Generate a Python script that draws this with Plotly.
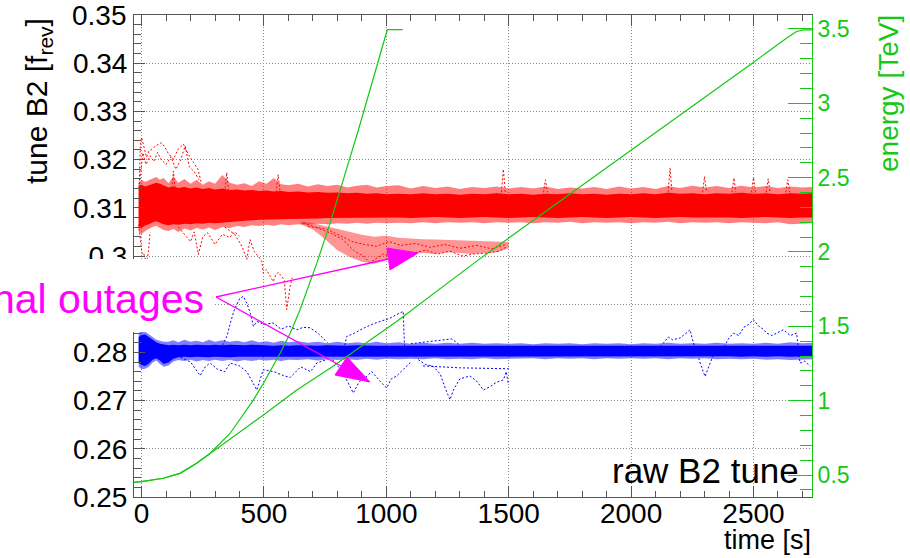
import plotly.graph_objects as go

# ---------------- data ----------------
x_ticks = [0, 500, 1000, 1500, 2000, 2500]
x_ticklabels = ["0", "500", "1000", "1500", "2000", "2500"]
y_ticks = [0.25, 0.26, 0.27, 0.28, 0.29, 0.30, 0.31, 0.32, 0.33, 0.34, 0.35]
# 0.29 is hidden behind the label box in the reference
y_ticklabels = ["0.25", "0.26", "0.27", "0.28", "", "0.3", "0.31", "0.32", "0.33", "0.34", "0.35"]
e_ticks = [0.5, 1, 1.5, 2, 2.5, 3, 3.5]
e_ticklabels = ["0.5", "1", "1.5", "2", "2.5", "3", "3.5"]

# time samples of the dense tune bands
band_t = [-12, 0, 15, 30, 45, 60, 75, 90,
          110, 130, 150, 175, 200, 225, 250, 275, 300,
          330, 360, 390, 420, 450, 480, 510, 540, 570, 600,
          640, 680, 720, 760, 800, 840, 880, 920, 960, 1000,
          1050, 1100, 1150, 1200, 1250, 1300, 1350, 1400, 1450, 1500,
          1550, 1600, 1650, 1700, 1750, 1800, 1850, 1900, 1950, 2000,
          2050, 2100, 2150, 2200, 2250, 2300, 2350, 2400, 2450, 2500,
          2550, 2600, 2650, 2700, 2740]

red_core_hi = [0.3146, 0.3148, 0.3144, 0.3147, 0.3150, 0.3152, 0.3150, 0.3146,
               0.3142, 0.3144, 0.3141, 0.3143, 0.3140, 0.3142, 0.3139, 0.3141, 0.3138,
               0.3140, 0.3137, 0.3138, 0.3136, 0.3137, 0.3135, 0.3136, 0.3134, 0.3135, 0.3133,
               0.3134, 0.3132, 0.3133, 0.3131, 0.3132, 0.3130, 0.3131, 0.3129, 0.3130, 0.3128,
               0.3129, 0.3128, 0.3130, 0.3128, 0.3129, 0.3127, 0.3129, 0.3128, 0.3130, 0.3128,
               0.3129, 0.3127, 0.3129, 0.3128, 0.3130, 0.3128, 0.3129, 0.3127, 0.3129, 0.3128,
               0.3130, 0.3128, 0.3131, 0.3129, 0.3130, 0.3128, 0.3130, 0.3129, 0.3131, 0.3129,
               0.3130, 0.3128, 0.3130, 0.3129, 0.3130]
red_core_lo = [0.3062, 0.3058, 0.3064, 0.3066, 0.3070, 0.3072, 0.3069, 0.3066,
               0.3064, 0.3066, 0.3065, 0.3067, 0.3066, 0.3068, 0.3067, 0.3069, 0.3068,
               0.3070, 0.3071, 0.3072, 0.3073, 0.3074, 0.3075, 0.3075, 0.3076, 0.3076, 0.3077,
               0.3077, 0.3078, 0.3078, 0.3079, 0.3079, 0.3079, 0.3080, 0.3079, 0.3080, 0.3080,
               0.3080, 0.3079, 0.3080, 0.3081, 0.3080, 0.3079, 0.3080, 0.3081, 0.3080, 0.3079,
               0.3080, 0.3081, 0.3080, 0.3079, 0.3080, 0.3081, 0.3080, 0.3079, 0.3080, 0.3081,
               0.3080, 0.3079, 0.3080, 0.3081, 0.3080, 0.3079, 0.3080, 0.3080, 0.3079, 0.3080,
               0.3081, 0.3080, 0.3079, 0.3080, 0.3080]
red_fuzz_hi = [0.3152, 0.3158, 0.3154, 0.3157, 0.3161, 0.3164, 0.3158, 0.3162,
               0.3151, 0.3165, 0.3152, 0.3160, 0.3150, 0.3158, 0.3148, 0.3155, 0.3150,
               0.3168, 0.3152, 0.3148, 0.3151, 0.3145, 0.3155, 0.3150, 0.3162, 0.3149, 0.3147,
               0.3150, 0.3144, 0.3149, 0.3145, 0.3148, 0.3142, 0.3146, 0.3148, 0.3142, 0.3145,
               0.3147, 0.3140, 0.3145, 0.3141, 0.3144, 0.3139, 0.3143, 0.3141, 0.3144, 0.3140,
               0.3143, 0.3140, 0.3144, 0.3139, 0.3142, 0.3140, 0.3143, 0.3139, 0.3144, 0.3140,
               0.3143, 0.3139, 0.3145, 0.3141, 0.3146, 0.3142, 0.3145, 0.3141, 0.3146, 0.3142,
               0.3145, 0.3141, 0.3144, 0.3142, 0.3143]
red_fuzz_lo = [0.3050, 0.3045, 0.3052, 0.3056, 0.3060, 0.3063, 0.3058, 0.3054,
               0.3052, 0.3056, 0.3050, 0.3057, 0.3053, 0.3058, 0.3055, 0.3059, 0.3054,
               0.3060, 0.3058, 0.3062, 0.3060, 0.3064, 0.3062, 0.3065, 0.3063, 0.3066, 0.3064,
               0.3066, 0.3065, 0.3067, 0.3066, 0.3068, 0.3067, 0.3069, 0.3067, 0.3069, 0.3068,
               0.3069, 0.3068, 0.3070, 0.3068, 0.3070, 0.3069, 0.3070, 0.3068, 0.3070, 0.3069,
               0.3070, 0.3068, 0.3070, 0.3069, 0.3071, 0.3068, 0.3070, 0.3069, 0.3070, 0.3068,
               0.3070, 0.3069, 0.3071, 0.3068, 0.3070, 0.3069, 0.3070, 0.3068, 0.3070, 0.3069,
               0.3068, 0.3070, 0.3066, 0.3067, 0.3068]

blue_core_hi = [0.2832, 0.2836, 0.2837, 0.2832, 0.2826, 0.2821, 0.2818, 0.2817,
                0.2815, 0.2816, 0.2815, 0.2816, 0.2815, 0.2816, 0.2815, 0.2815, 0.2816,
                0.2815, 0.2816, 0.2815, 0.2815, 0.2816, 0.2815, 0.2815, 0.2814, 0.2815, 0.2814,
                0.2815, 0.2814, 0.2814, 0.2815, 0.2814, 0.2814, 0.2815, 0.2814, 0.2814, 0.2814,
                0.2814, 0.2813, 0.2814, 0.2813, 0.2814, 0.2813, 0.2813, 0.2814, 0.2813, 0.2813,
                0.2814, 0.2813, 0.2813, 0.2814, 0.2813, 0.2813, 0.2814, 0.2813, 0.2813, 0.2814,
                0.2813, 0.2814, 0.2813, 0.2813, 0.2814, 0.2813, 0.2814, 0.2813, 0.2814, 0.2813,
                0.2813, 0.2813, 0.2814, 0.2814, 0.2814]
blue_core_lo = [0.2778, 0.2774, 0.2772, 0.2777, 0.2785, 0.2788, 0.2783, 0.2776,
                0.2779, 0.2787, 0.2790, 0.2791, 0.2790, 0.2791, 0.2791, 0.2790, 0.2791,
                0.2791, 0.2790, 0.2791, 0.2791, 0.2792, 0.2791, 0.2791, 0.2792, 0.2791, 0.2792,
                0.2792, 0.2791, 0.2792, 0.2792, 0.2791, 0.2792, 0.2792, 0.2791, 0.2792, 0.2792,
                0.2792, 0.2791, 0.2792, 0.2792, 0.2791, 0.2792, 0.2792, 0.2791, 0.2792, 0.2792,
                0.2791, 0.2792, 0.2792, 0.2791, 0.2792, 0.2792, 0.2791, 0.2792, 0.2792, 0.2791,
                0.2792, 0.2792, 0.2791, 0.2792, 0.2792, 0.2791, 0.2792, 0.2792, 0.2791, 0.2792,
                0.2791, 0.2792, 0.2791, 0.2791, 0.2792]
blue_fuzz_hi = [0.2840, 0.2844, 0.2843, 0.2838, 0.2832, 0.2826, 0.2824, 0.2822,
                0.2822, 0.2825, 0.2821, 0.2826, 0.2822, 0.2824, 0.2821, 0.2826, 0.2822,
                0.2825, 0.2822, 0.2824, 0.2821, 0.2825, 0.2821, 0.2823, 0.2820, 0.2824, 0.2821,
                0.2823, 0.2820, 0.2822, 0.2819, 0.2822, 0.2819, 0.2821, 0.2819, 0.2822, 0.2819,
                0.2821, 0.2818, 0.2820, 0.2818, 0.2820, 0.2818, 0.2820, 0.2818, 0.2819, 0.2818,
                0.2819, 0.2817, 0.2819, 0.2818, 0.2819, 0.2817, 0.2819, 0.2818, 0.2819, 0.2817,
                0.2819, 0.2818, 0.2820, 0.2818, 0.2819, 0.2818, 0.2820, 0.2818, 0.2819, 0.2818,
                0.2820, 0.2818, 0.2821, 0.2819, 0.2820]
blue_fuzz_lo = [0.2770, 0.2765, 0.2766, 0.2770, 0.2779, 0.2783, 0.2776, 0.2770,
                0.2773, 0.2781, 0.2784, 0.2782, 0.2785, 0.2781, 0.2784, 0.2782, 0.2785,
                0.2782, 0.2785, 0.2781, 0.2784, 0.2782, 0.2785, 0.2783, 0.2785, 0.2782, 0.2785,
                0.2784, 0.2786, 0.2783, 0.2786, 0.2784, 0.2786, 0.2784, 0.2787, 0.2785, 0.2787,
                0.2786, 0.2787, 0.2786, 0.2788, 0.2786, 0.2787, 0.2786, 0.2788, 0.2786, 0.2787,
                0.2787, 0.2788, 0.2786, 0.2788, 0.2787, 0.2788, 0.2786, 0.2788, 0.2787, 0.2788,
                0.2787, 0.2788, 0.2786, 0.2788, 0.2787, 0.2788, 0.2786, 0.2787, 0.2786, 0.2787,
                0.2785, 0.2786, 0.2784, 0.2785, 0.2786]

# red excursions, dotted
red_ex1_t = [-10, -5, 0, 10, 20, 30, 42, 55, 70, 82, 95, 110, 130, 150, 171, 190, 212, 230, 245]
red_ex1_v = [0.3140, 0.3230, 0.3246, 0.3222, 0.3205, 0.3218, 0.3221, 0.3228, 0.3232, 0.3235,
             0.3226, 0.3212, 0.3201, 0.3222, 0.3232, 0.3212, 0.3194, 0.3180, 0.3150]
red_ex1b_t = [-8, 5, 18, 35, 50, 65, 80, 100, 120, 140, 160, 178, 195, 215, 235]
red_ex1b_v = [0.3150, 0.3214, 0.3190, 0.3208, 0.3196, 0.3215, 0.3200, 0.3190, 0.3206, 0.3180,
              0.3200, 0.3228, 0.3185, 0.3175, 0.3158]
red_ex2_t = [-12, -5, 2, 7, 14, 21, 28, 35]
red_ex2_v = [0.3065, 0.3030, 0.3005, 0.3007, 0.2995, 0.2986, 0.3010, 0.3050]
red_ex3_t = [150, 175, 200, 215, 232, 250, 270, 300, 330, 360, 380, 400]
red_ex3_v = [0.3060, 0.3045, 0.3030, 0.3050, 0.3003, 0.3040, 0.3048, 0.3024, 0.3045, 0.3038, 0.3050, 0.3041]
red_ex4_t = [340, 380, 410, 430, 443, 460, 478, 491, 497, 510, 525, 538, 548, 558, 572, 583, 593, 600, 607, 615]
red_ex4_v = [0.3060, 0.3045, 0.3020, 0.2993, 0.3034, 0.3010, 0.2998, 0.2989, 0.2965, 0.2972,
             0.2958, 0.2947, 0.2960, 0.2966, 0.2958, 0.2950, 0.2889, 0.2915, 0.2937, 0.2955]
red_cl_t = [650, 700, 750, 800, 850, 900, 950, 1000, 1050, 1100, 1150, 1200, 1250, 1300, 1350, 1400, 1450, 1500]
red_cl_hi = [0.3072, 0.3068, 0.3062, 0.3056, 0.3049, 0.3044, 0.3040, 0.3042, 0.3038, 0.3036,
             0.3035, 0.3034, 0.3033, 0.3032, 0.3031, 0.3031, 0.3030, 0.3029]
red_cl_lo = [0.3066, 0.3055, 0.3035, 0.3012, 0.2998, 0.2988, 0.2984, 0.2992, 0.3002, 0.3004,
             0.3006, 0.3004, 0.3008, 0.3006, 0.3004, 0.3006, 0.3008, 0.3016]
red_ex5_t = [680, 720, 770, 820, 870, 906, 933, 960, 990, 1020, 1060, 1110, 1160, 1210, 1260, 1310, 1355, 1410, 1460, 1495]
red_ex5_v = [0.3062, 0.3058, 0.3048, 0.3035, 0.3010, 0.3000, 0.2986, 0.2995, 0.3005, 0.2998,
             0.3010, 0.3006, 0.3012, 0.3004, 0.3010, 0.3000, 0.3004, 0.3006, 0.3010, 0.3020]
red_ex6_t = [660, 710, 760, 810, 860, 910, 960, 1010, 1060, 1120, 1180, 1240, 1300, 1370, 1430, 1490]
red_ex6_v = [0.3068, 0.3060, 0.3055, 0.3042, 0.3030, 0.3024, 0.3020, 0.3030, 0.3022, 0.3026,
             0.3018, 0.3024, 0.3016, 0.3022, 0.3015, 0.3024]
red_spike_t = [130, 348, 558, 1478, 1650, 2159, 2300, 2420, 2500, 2560, 2640]
red_spike_v = [0.3176, 0.3173, 0.3169, 0.3180, 0.3158, 0.3182, 0.3165, 0.3162, 0.3163, 0.3160, 0.3158]

# blue excursions, dotted
blue_ex1_t = [330, 350, 362, 380, 402, 416, 430, 445, 457, 471, 500, 538, 570, 600, 634, 660, 688, 720, 760]
blue_ex1_v = [0.2815, 0.2835, 0.2860, 0.2890, 0.2913, 0.2916, 0.2902, 0.2880, 0.2854, 0.2864,
              0.2858, 0.2861, 0.2848, 0.2855, 0.2847, 0.2852, 0.2851, 0.2840, 0.2820]
blue_ex2_t = [830, 838, 870, 906, 950, 1000, 1015, 1040, 1069, 1072, 1076, 1080]
blue_ex2_v = [0.2815, 0.2833, 0.2840, 0.2850, 0.2860, 0.2868, 0.2871, 0.2878, 0.2885, 0.2840, 0.2792, 0.2800]
blue_ex3_t = [1100, 1138, 1180, 1220, 1267, 1288, 1300]
blue_ex3_v = [0.2818, 0.2820, 0.2822, 0.2825, 0.2828, 0.2820, 0.2815]
blue_ex4_t = [160, 200, 239, 260, 280, 310, 340, 362, 400, 430, 471, 497, 540, 579, 607, 650, 690, 716, 760]
blue_ex4_v = [0.2790, 0.2780, 0.2752, 0.2770, 0.2778, 0.2765, 0.2760, 0.2778, 0.2772, 0.2760,
              0.2722, 0.2764, 0.2760, 0.2752, 0.2748, 0.2770, 0.2760, 0.2778, 0.2786]
blue_ex5_t = [780, 820, 865, 890, 906, 940, 975, 1001, 1020, 1042, 1070, 1100]
blue_ex5_v = [0.2785, 0.2760, 0.2716, 0.2740, 0.2744, 0.2760, 0.2740, 0.2726, 0.2745, 0.2751, 0.2765, 0.2780]
blue_ex6_t = [1130, 1160, 1192, 1220, 1245, 1260, 1274, 1300, 1342, 1370, 1396, 1424, 1450, 1478, 1490, 1498]
blue_ex6_v = [0.2785, 0.2775, 0.2771, 0.2755, 0.2720, 0.2702, 0.2722, 0.2745, 0.2751, 0.2740,
              0.2722, 0.2729, 0.2738, 0.2743, 0.2760, 0.2735]
blue_ex7_t = [1150, 1300, 1500]
blue_ex7_v = [0.2772, 0.2768, 0.2766]
blue_ex8_t = [2120, 2140, 2152, 2170, 2200, 2220, 2241, 2254, 2270, 2282, 2302, 2323, 2340, 2360]
blue_ex8_v = [0.2812, 0.2826, 0.2832, 0.2826, 0.2830, 0.2838, 0.2847, 0.2820, 0.2800, 0.2778,
              0.2750, 0.2778, 0.2800, 0.2810]
blue_ex9_t = [2380, 2400, 2418, 2440, 2460, 2480, 2499, 2520, 2540, 2554, 2575, 2600, 2622, 2650, 2676, 2690, 2710, 2731]
blue_ex9_v = [0.2812, 0.2830, 0.2840, 0.2835, 0.2852, 0.2858, 0.2868, 0.2855, 0.2848, 0.2840,
              0.2835, 0.2842, 0.2847, 0.2835, 0.2840, 0.2778, 0.2782, 0.2771]

# beam energy ramps [TeV]
fast_t = [-31, 0, 89, 157, 225, 280, 362, 457, 498, 566, 607, 647, 716, 770, 824, 886, 1004, 1067]
fast_e = [0.450, 0.455, 0.478, 0.511, 0.579, 0.646, 0.781, 1.005, 1.117, 1.319, 1.454, 1.610,
          1.925, 2.194, 2.485, 2.822, 3.495, 3.495]
slow_t = [-31, 0, 89, 157, 225, 280, 362, 498, 634, 770, 906, 1042, 1376, 1873, 2281, 2499,
          2636, 2676, 2704, 2739]
slow_e = [0.450, 0.455, 0.478, 0.511, 0.579, 0.646, 0.742, 0.904, 1.072, 1.218, 1.375, 1.532,
          1.947, 2.534, 3.012, 3.275, 3.439, 3.483, 3.494, 3.494]

# ---------------- styling / layout constants ----------------
W, H = 910, 558
PL, PR, PT, PB = 134, 812, 15, 497          # plot-area pixel box
FONT = "Liberation Sans, Arial, Helvetica, sans-serif"
GREEN = "#14c814"
MAGENTA = "#ff00ff"
RED = "#ff0000"
BLUE = "#0000ff"
X_RANGE = [-31, 2739]
Y_RANGE = [0.25, 0.35]
E_RANGE = [0.352, 3.594]
SPIKE_BASE_RED = 0.3132
GRID_DASH = "1px,2px"
DATA_DASH = "2px,2px"


def px(xp):
    return (xp - PL) / (PR - PL)


def py(yp):
    return (PB - yp) / (PB - PT)


def band(t, hi, lo, color):
    return go.Scatter(x=list(t) + list(t)[::-1], y=list(hi) + list(lo)[::-1],
                      fill="toself", fillcolor=color, mode="lines",
                      line=dict(width=0), hoverinfo="skip", showlegend=False)


def dotted(t, v, color, width=1.0):
    return go.Scatter(x=t, y=v, mode="lines", line=dict(color=color, width=width, dash=DATA_DASH),
                      hoverinfo="skip", showlegend=False)


fig = go.Figure()
fig.add_trace(band(band_t, red_fuzz_hi, red_fuzz_lo, "rgba(255,0,0,0.5)"))
fig.add_trace(band(band_t, blue_fuzz_hi, blue_fuzz_lo, "rgba(0,0,255,0.5)"))
fig.add_trace(band(red_cl_t, red_cl_hi, red_cl_lo, "rgba(255,0,0,0.42)"))

for t, v in [(red_ex1_t, red_ex1_v), (red_ex1b_t, red_ex1b_v), (red_ex2_t, red_ex2_v),
             (red_ex3_t, red_ex3_v), (red_ex4_t, red_ex4_v), (red_ex5_t, red_ex5_v),
             (red_ex6_t, red_ex6_v)]:
    fig.add_trace(dotted(t, v, RED))
for t0, v0 in zip(red_spike_t, red_spike_v):
    fig.add_trace(dotted([t0 - 8, t0, t0 + 8], [SPIKE_BASE_RED, v0, SPIKE_BASE_RED], RED))
for t, v in [(blue_ex1_t, blue_ex1_v), (blue_ex2_t, blue_ex2_v), (blue_ex3_t, blue_ex3_v),
             (blue_ex4_t, blue_ex4_v), (blue_ex5_t, blue_ex5_v), (blue_ex6_t, blue_ex6_v),
             (blue_ex7_t, blue_ex7_v), (blue_ex8_t, blue_ex8_v), (blue_ex9_t, blue_ex9_v)]:
    fig.add_trace(dotted(t, v, BLUE))

fig.add_trace(band(band_t, red_core_hi, red_core_lo, RED))
fig.add_trace(band(band_t, blue_core_hi, blue_core_lo, BLUE))

fig.add_trace(go.Scatter(x=slow_t, y=slow_e, yaxis="y2", mode="lines",
                         line=dict(color=GREEN, width=1.2), hoverinfo="skip", showlegend=False))
fig.add_trace(go.Scatter(x=fast_t, y=fast_e, yaxis="y2", mode="lines",
                         line=dict(color=GREEN, width=1.2), hoverinfo="skip", showlegend=False))

AX_GREY = "#555555"
fig.update_layout(
    width=W, height=H,
    margin=dict(l=PL, r=W - PR, t=PT, b=H - PB, pad=0),
    paper_bgcolor="white", plot_bgcolor="white",
    showlegend=False,
    font=dict(family=FONT, color="black"),
    xaxis=dict(range=X_RANGE, tickmode="array", tickvals=x_ticks, ticktext=x_ticklabels,
               ticks="inside", ticklen=11, tickwidth=1, tickcolor=AX_GREY,
               showline=True, linecolor=AX_GREY, linewidth=1, mirror="ticks",
               showgrid=True, gridcolor="#8a8a8a", gridwidth=1, griddash=GRID_DASH,
               zeroline=False, tickfont=dict(size=28, family=FONT, color="black"),
               ticklabelstandoff=-9,
               minor=dict(tickmode="linear", tick0=0, dtick=100, ticklen=6,
                          ticks="inside", tickcolor=AX_GREY, showgrid=False)),
    yaxis=dict(range=Y_RANGE, tickmode="array", tickvals=y_ticks, ticktext=y_ticklabels,
               ticks="inside", ticklen=11, tickwidth=1, tickcolor=AX_GREY,
               showline=True, linecolor=AX_GREY, linewidth=1,
               showgrid=True, gridcolor="#8a8a8a", gridwidth=1, griddash=GRID_DASH,
               zeroline=False, tickfont=dict(size=28, family=FONT, color="black"),
               minor=dict(tickmode="linear", tick0=0.25, dtick=0.002, ticklen=7,
                          ticks="inside", tickcolor=AX_GREY, showgrid=False)),
    yaxis2=dict(range=E_RANGE, overlaying="y", side="right", anchor="x",
                tickmode="array", tickvals=e_ticks, ticktext=e_ticklabels,
                ticks="inside", ticklen=24, tickwidth=1, tickcolor=GREEN,
                showline=True, linecolor=GREEN, linewidth=1, showgrid=False, zeroline=False,
                tickfont=dict(size=23, family=FONT, color=GREEN),
                minor=dict(tickmode="linear", tick0=0, dtick=0.1, ticklen=12,
                           ticks="inside", tickcolor=GREEN, showgrid=False)),
)

# white box behind the "signal outages" label (it hides part of the frame)
shapes = [dict(type="rect", xref="paper", yref="paper", layer="above",
               x0=px(-5), x1=px(214), y0=py(332), y1=py(259),
               fillcolor="white", line=dict(width=0))]

# arrows: line + filled triangular head (pixel geometry)
ARROW_START = (216, 297)
heads = [((418, 253), (387, 248), (390, 270)),
         ((370, 382), (347, 357), (335, 375))]
for tip, b1, b2 in heads:
    bm = ((b1[0] + b2[0]) / 2, (b1[1] + b2[1]) / 2)
    shapes.append(dict(type="line", xref="paper", yref="paper", layer="above",
                       x0=px(ARROW_START[0]), y0=py(ARROW_START[1]), x1=px(bm[0]), y1=py(bm[1]),
                       line=dict(color=MAGENTA, width=1.3)))
    path = "M {} {} L {} {} L {} {} Z".format(px(tip[0]), py(tip[1]), px(b1[0]), py(b1[1]),
                                              px(b2[0]), py(b2[1]))
    shapes.append(dict(type="path", xref="paper", yref="paper", layer="above", path=path,
                       fillcolor=MAGENTA, line=dict(color=MAGENTA, width=1)))
fig.update_layout(shapes=shapes)

annotations = [
    dict(text="0.35", xref="paper", yref="paper", x=px(129), y=py(PT),
         xanchor="right", yanchor="middle", showarrow=False,
         font=dict(size=28, color="black", family=FONT)),
    dict(text="nal outages", xref="paper", yref="paper", x=px(206), y=py(299),
         xanchor="right", yanchor="middle", showarrow=False,
         font=dict(size=41, color=MAGENTA, family=FONT)),
    dict(text="raw B2 tune", xref="paper", yref="paper", x=px(801), y=py(470),
         xanchor="right", yanchor="middle", showarrow=False,
         font=dict(size=35, color="black", family=FONT)),
    dict(text="time [s]", xref="paper", yref="paper", x=px(813), y=py(540),
         xanchor="right", yanchor="middle", showarrow=False,
         font=dict(size=27, color="black", family=FONT)),
    dict(text="energy [TeV]", xref="paper", yref="paper", x=px(889), y=py(94),
         xanchor="center", yanchor="middle", showarrow=False, textangle=-90,
         font=dict(size=28, color=GREEN, family=FONT)),
    dict(text="tune B2 [f<sub>rev</sub>]", xref="paper", yref="paper", x=px(38), y=py(101),
         xanchor="center", yanchor="middle", showarrow=False, textangle=-90,
         font=dict(size=30, color="black", family=FONT)),
]
fig.update_layout(annotations=annotations)

# the page is photographed at 910x558: drop the default body margin
fig.write_html("out.html", config={"displayModeBar": False},
               post_script="document.body.style.margin='0';")
